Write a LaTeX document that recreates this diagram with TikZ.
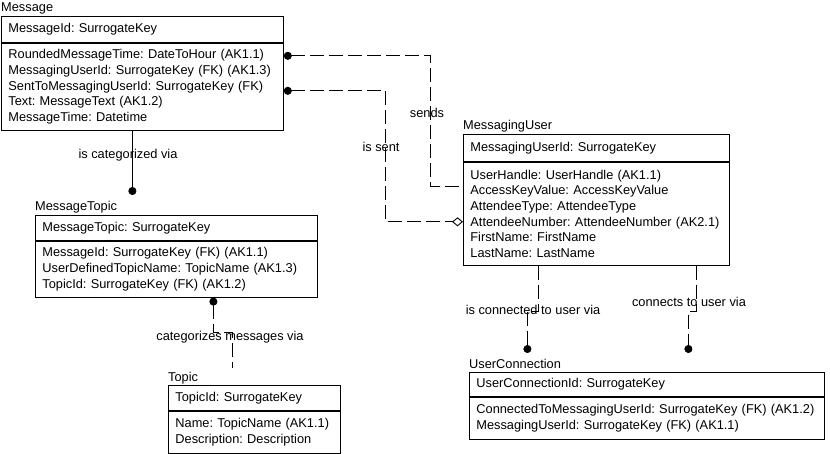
\documentclass[tikz,border=0pt]{standalone}
\usepackage{fontspec}
\setmainfont{Liberation Sans}
\usetikzlibrary{arrows.meta}
\frenchspacing

\tikzset{
  erfont/.style={font=\fontsize{12.8}{15.6}\selectfont},
  enttitle/.style={anchor=base west, inner sep=0pt, erfont},
  keybox/.style={draw, line width=0.8pt, anchor=north west, align=left,
    inner xsep=7pt, inner ysep=0pt, erfont},
  relline/.style={line width=0.9pt},
  nonid/.style={relline, dash pattern=on 14pt off 5pt},
  rellabel/.style={inner sep=0pt, erfont},
}

\begin{document}
\begin{tikzpicture}[x=1pt, y=-1pt]
    \useasboundingbox (0,0) rectangle (830,454);

    % entities
    \node[enttitle] (msgtitle) at (1,12) {Message};
    \node[keybox, text width=268pt, minimum height=26pt] (msgkey) at (1,16)
        {MessageId: SurrogateKey};
    \node[keybox, text width=268pt, minimum height=87pt] (msgbody) at (msgkey.south west)
        {RoundedMessageTime: DateToHour (AK1.1)\\
         MessagingUserId: SurrogateKey (FK) (AK1.3)\\
         SentToMessagingUserId: SurrogateKey (FK)\\
         Text: MessageText (AK1.2)\\
         MessageTime: Datetime};

    \node[enttitle] (mttitle) at (35,211) {MessageTopic};
    \node[keybox, text width=268pt, minimum height=25pt] (mtkey) at (35,215)
        {MessageTopic: SurrogateKey};
    \node[keybox, text width=268pt, minimum height=56pt] (mtbody) at (mtkey.south west)
        {MessageId: SurrogateKey (FK) (AK1.1)\\
         UserDefinedTopicName: TopicName (AK1.3)\\
         TopicId: SurrogateKey (FK) (AK1.2)};

    \node[enttitle] (tptitle) at (168,381) {Topic};
    \node[keybox, text width=158pt, minimum height=25pt] (tpkey) at (168,385)
        {TopicId: SurrogateKey};
    \node[keybox, text width=158pt, minimum height=42pt] (tpbody) at (tpkey.south west)
        {Name: TopicName (AK1.1)\\
         Description: Description};

    \node[enttitle] (mutitle) at (463,130) {MessagingUser};
    \node[keybox, text width=252pt, minimum height=27pt] (mukey) at (463,134)
        {MessagingUserId: SurrogateKey};
    \node[keybox, text width=252pt, minimum height=103pt] (mubody) at (mukey.south west)
        {UserHandle: UserHandle (AK1.1)\\
         AccessKeyValue: AccessKeyValue\\
         AttendeeType: AttendeeType\\
         AttendeeNumber: AttendeeNumber (AK2.1)\\
         FirstName: FirstName\\
         LastName: LastName};

    \node[enttitle] (uctitle) at (469,368) {UserConnection};
    \node[keybox, text width=341pt, minimum height=24pt] (uckey) at (469,372)
        {UserConnectionId: SurrogateKey};
    \node[keybox, text width=341pt, minimum height=42pt] (ucbody) at (uckey.south west)
        {ConnectedToMessagingUserId: SurrogateKey (FK) (AK1.2)\\
         MessagingUserId: SurrogateKey (FK) (AK1.1)};

    % relationships
    \draw[relline, -{Circle[length=8pt]}, shorten >=20pt]
        ([xshift=-10pt]msgbody.south) -- ([xshift=-10pt]msgbody.south |- mtkey.north);
    \draw[nonid, {Circle[length=8pt]}-, shorten >=17pt]
        ([xshift=37pt]mtbody.south) -- ++(0,35) -| ([xshift=-22pt]tpkey.north);
    \draw[nonid, {Circle[length=8pt]}-]
        ([yshift=-13pt]msgbody.north east) -- ++(147,0) |- ([yshift=-25pt]mubody.north west);
    \draw[nonid, {Circle[length=8pt]}-{Diamond[open, length=11pt, width=9pt]}]
        ([yshift=-48pt]msgbody.north east) -- ++(102,0) |- ([yshift=-60pt]mubody.north west);
    \draw[nonid, -{Circle[length=8pt]}, shorten >=19pt]
        ([xshift=-58pt]mubody.south) -- ++(0,46) -| ([xshift=-119.5pt]uckey.north);
    \draw[nonid, -{Circle[length=8pt]}, shorten >=19pt]
        ([xshift=100pt]mubody.south) -- ++(0,46) -| ([xshift=41.5pt]uckey.north);

    % verb phrases
    \node[rellabel] (lcat) at (128,155) {is categorized via};
    \node[rellabel] (lcatmsg) at (230,337) {categorizes messages via};
    \node[rellabel] (lsends) at (427,113) {sends};
    \node[rellabel] (lsent) at (381,147) {is sent};
    \node[rellabel] (lconn) at (533,310) {is connected to user via};
    \node[rellabel] (lconns) at (689,302) {connects to user via};
\end{tikzpicture}
\end{document}
